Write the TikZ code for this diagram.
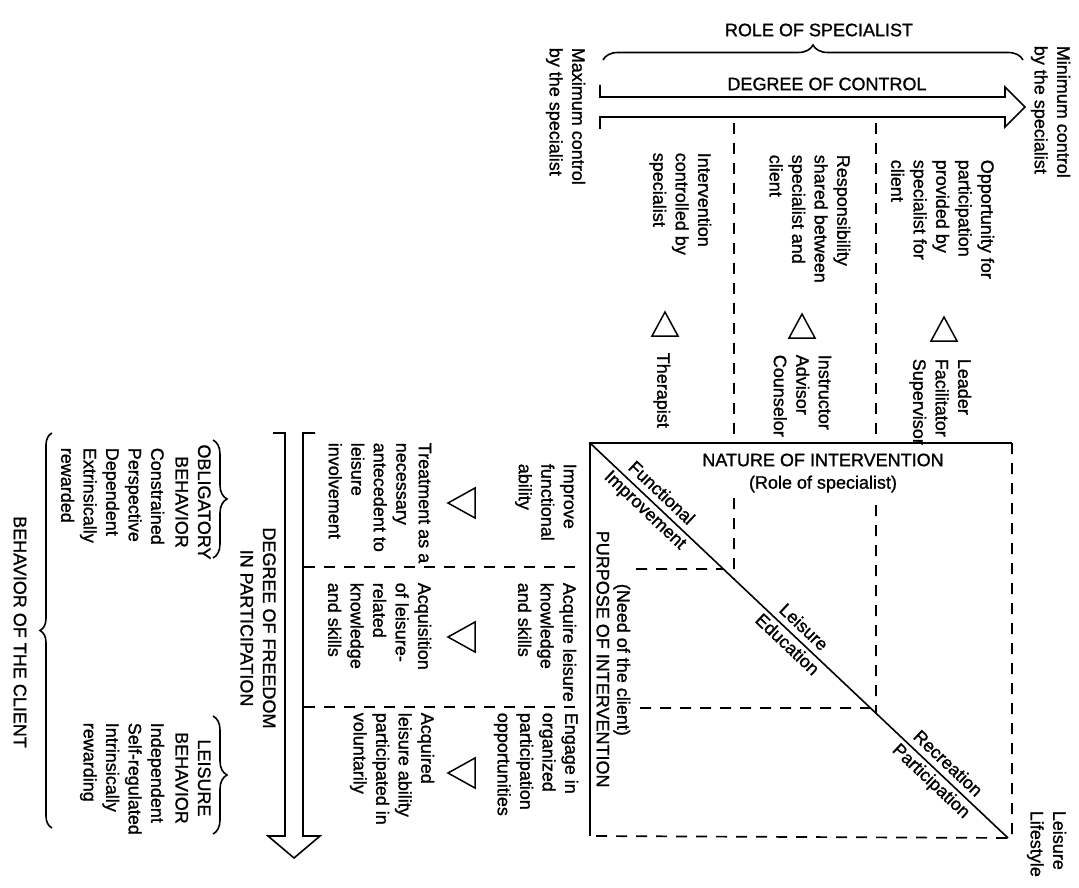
\documentclass[tikz,border=0pt]{standalone}
\usepackage{fontspec}
\setmainfont{Liberation Sans}[UprightFeatures={FakeBold=1.1}]
\usetikzlibrary{decorations.pathreplacing, positioning, calc}

\begin{document}
\begin{tikzpicture}[x=1pt, y=-1pt, line width=1.6pt,
    every node/.style={inner sep=0pt, font=\fontsize{18}{22.5}\selectfont},
    vtext/.style={rotate=-90, anchor=north west, align=left},
    vhead/.style={rotate=-90, align=center},
    guide/.style={dash pattern=on 11pt off 9pt, line width=1.7pt},
    curly/.style={decorate, decoration={brace, amplitude=#1}}]
    \useasboundingbox (0,0) rectangle (1079,888);

    % Role of specialist and degree of control
    \node (role) at (819,30) {ROLE OF SPECIALIST};
    \draw[curly=15] (603,60) -- (1023,60);
    \node (control) at (827,84) {DEGREE OF CONTROL};
    \draw (600,85) -- (600,97) -- (1005,97) -- (1005,87) -- (1025,107) -- (1005,127) -- (1005,117) -- (600,117) -- (600,129);
    \node[vtext] (maxctl) at (586,47) {Maximum control\\by the specialist};
    \node[vtext] (minctl) at (1071,45) {Minimum control\\by the specialist};

    % Columns of the upper half
    \draw[guide] (734,123) -- (734,443);
    \draw[guide] (876,123) -- (876,443);
    \node[vtext] (interv) at (712,152) {Intervention\\controlled by\\specialist};
    \node[vtext] (respons) at (851,154) {Responsibility\\shared between\\specialist and\\client};
    \node[vtext] (oppor) at (995,159) {Opportunity for\\participation\\provided by\\specialist for\\client};
    \foreach \x/\y in {665/324, 802/326, 944/329}
        \draw[line width=1.5pt] (\x-13,\y+12) -- (\x+13,\y+12) -- (\x,\y-12) -- cycle;
    \node[vtext] (therap) at (671,352) {Therapist};
    \node[vtext] (instr) at (832,354) {Instructor\\Advisor\\Counselor};
    \node[vtext] (leader) at (972,358) {Leader\\Facilitator\\Supervisor};

    % Nature of intervention box
    \coordinate (tl) at (590,443);
    \coordinate (tr) at (1012,443);
    \coordinate (br) at (1012,838);
    \coordinate (bl) at (590,836);
    \coordinate (dg) at (1008,838);
    \draw (bl) -- (tl) -- (tr);
    \draw[guide] (tr) -- (br) -- (bl);
    \draw (tl) -- (dg)
        node[pos=0.15, sloped, above=6pt] {Functional}
        node[pos=0.15, sloped, below=3pt] {Improvement}
        node[pos=0.49, sloped, above=6pt] {Leisure}
        node[pos=0.49, sloped, below=3pt] {Education}
        node[pos=0.835, sloped, above=6pt] {Recreation}
        node[pos=0.835, sloped, below=3pt] {Participation};
    \draw[guide] (734,498) -- (intersection of tl--dg and 734,0--734,888);
    \draw[guide] (876,505) -- (intersection of tl--dg and 876,0--876,888);
    \draw[guide] (636,569) -- (intersection of tl--dg and 0,569--1079,569);
    \draw[guide] (640,708) -- (intersection of tl--dg and 0,708--1079,708);
    \node[align=center] (nature) at (823,473) {NATURE OF INTERVENTION\\(Role of specialist)};
    \node[vtext] (purpose) at (610,530) {PURPOSE OF INTERVENTION};
    \node[vtext] (need) at (631,583) {(Need of the client)};
    \node[vtext] (lifestyle) at (1067,810) {Leisure\\Lifestyle};

    % Rows of the lower half
    \draw[guide] (304,567) -- (578,567);
    \draw[guide] (304,707) -- (578,707);
    \node[vtext] (improve) at (577,463) {Improve\\functional\\ability};
    \node[vtext] (acquire) at (577,582) {Acquire leisure\\knowledge\\and skills};
    \node[vtext] (engage) at (579,712) {Engage in\\organized\\participation\\opportunities};
    \foreach \y in {503, 637, 773}
        \draw[line width=1.5pt] (475,\y-15) -- (475,\y+15) -- (448,\y) -- cycle;
    \node[vtext] (treat) at (432,442) {Treatment as a\\necessary\\antecedent to\\leisure\\involvement};
    \node[vtext] (acquis) at (432,582) {Acquisition\\of leisure-\\related\\knowledge\\and skills};
    \node[vtext] (acqd) at (435,712) {Acquired\\leisure ability\\participated in\\voluntarily};

    % Degree of freedom arrow
    \draw (273,433) -- (285,433) -- (285,836) -- (268,836) -- (294,858) -- (320,836) -- (303,836) -- (303,433) -- (315,433);
    \node[vhead] (freedom) at (258,628) {DEGREE OF FREEDOM\\IN PARTICIPATION};

    % Behavior of the client
    \draw[curly=14] (213,440) -- (213,558);
    \node[vhead] (oblig) at (193,502) {OBLIGATORY\\BEHAVIOR};
    \node[vtext] (obliglist) at (165,447) {Constrained\\Perspective\\Dependent\\Extrinsically\\rewarded};
    \draw[curly=14] (213,716) -- (213,834);
    \node[vhead] (leis) at (193,778) {LEISURE\\BEHAVIOR};
    \node[vtext] (leislist) at (165,722) {Independent\\Self-regulated\\Intrinsically\\rewarding};
    \draw[curly=12] (52,828) -- (52,433);
    \node[vhead] (client) at (20,632) {BEHAVIOR OF THE CLIENT};
\end{tikzpicture}
\end{document}
